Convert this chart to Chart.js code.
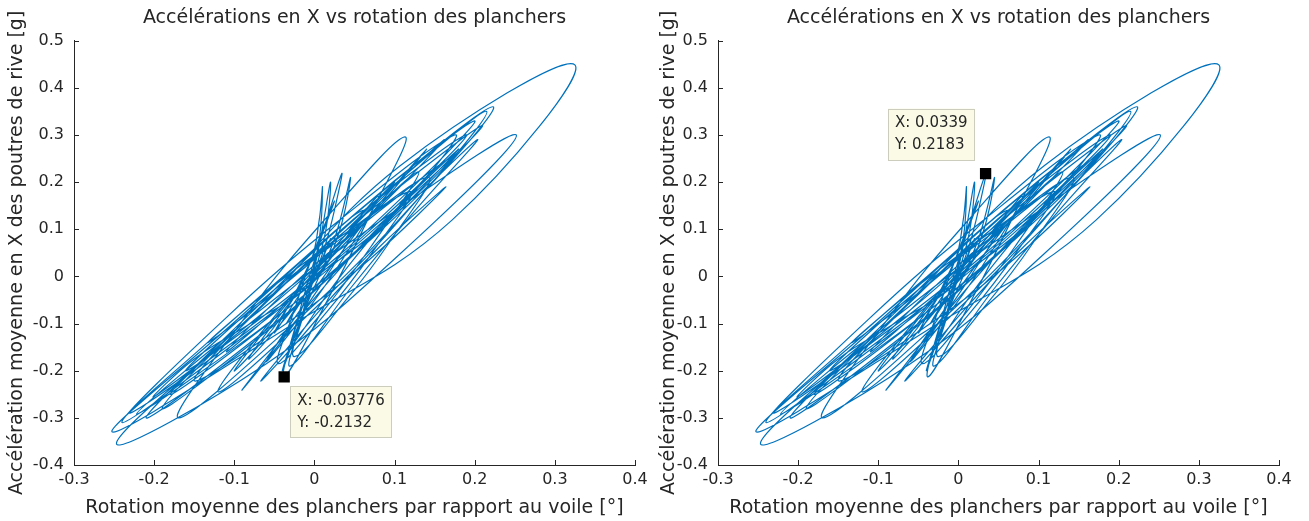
<!DOCTYPE html>
<html lang="fr">
<head>
<meta charset="utf-8">
<title>Accélérations en X vs rotation des planchers</title>
<style>
	body { margin: 0; background: #fff; }
	#wrap { position: relative; width: 1309px; height: 521px; overflow: hidden; }
	canvas { position: absolute; top: 0; }
	#left { left: 0; }
	#right { left: 644px; }
</style>
</head>
<body>
<div id="wrap">
	<canvas id="left" width="665" height="521"></canvas>
	<canvas id="right" width="665" height="521"></canvas>
</div>
<script src="https://cdn.jsdelivr.net/npm/chart.js@4.4.1/dist/chart.umd.min.js"></script>
<script>
// courbe rotation / accélération, une ligne = un demi-cycle
const rotX = [
	0.000,
	0.014, 0.025, 0.034,
	0.008, -0.017, -0.038,
	0.016, 0.066, 0.113,
	0.010, -0.085, -0.170,
	-0.028, 0.104, 0.223,
	0.057, -0.098, -0.252,
	-0.040, 0.172, 0.325,
	0.107, -0.072, -0.247,
	-0.060, 0.105, 0.252,
	0.085, -0.076, -0.222,
	-0.071, 0.070, 0.203,
	0.123, 0.045, -0.030,
	-0.011, 0.006, 0.020,
	0.012, -0.018, -0.040,
	-0.012, 0.025, 0.045,
	0.030, 0.000, -0.080, -0.150, -0.200,
	-0.072, 0.049, 0.162,
	0.061, -0.034, -0.120,
	0.001, 0.113, 0.215,
	0.086, -0.036, -0.150,
	-0.036, 0.068, 0.164,
	0.082, 0.005, -0.067,
	0.005, 0.070, 0.130,
	0.047, -0.029, -0.100,
	-0.045, -0.005, 0.006, 0.010,
	0.006, -0.012, -0.025,
	0.037, 0.093, 0.143,
	0.047, -0.046, -0.133,
	-0.051, 0.027, 0.100,
	0.036, -0.025, -0.082,
	-0.031, 0.016, 0.060,
	-0.039, -0.136, -0.230,
	-0.081, 0.060, 0.190,
	0.058, -0.063, -0.180,
	-0.056, 0.061, 0.170,
	0.071, -0.023, -0.110,
	-0.021, 0.063, 0.140,
	0.069, 0.003, -0.060,
	-0.009, 0.038, 0.080,
	0.034, -0.010, -0.050,
	-0.023, 0.003, 0.025,
	-0.001, -0.024, -0.045,
	0.016, 0.071, 0.120,
	0.021, -0.073, -0.160,
	-0.031, 0.089, 0.200,
	0.054, -0.081, -0.210,
	-0.071, 0.059, 0.180,
	0.084, -0.006, -0.090,
	-0.040, 0.007, 0.050,
	0.019, -0.009, -0.035,
	-0.014, 0.004, 0.020,
	0.012, 0.005, 0.000,
	0.067, 0.126, 0.175,
	0.028, -0.111, -0.240,
	-0.081, 0.069, 0.210,
	0.068, -0.066, -0.190,
	-0.068, 0.046, 0.150,
	0.086, 0.026, -0.030,
	-0.018, -0.008, 0.000
];
const accY = [
	0.000,
	0.069, 0.141, 0.218,
	0.079, -0.065, -0.213,
	-0.051, 0.119, 0.296,
	0.115, -0.083, -0.300,
	-0.103, 0.118, 0.360,
	0.141, -0.094, -0.330,
	-0.115, 0.120, 0.449,
	0.235, -0.072, -0.355,
	-0.185, 0.045, 0.300,
	0.121, -0.083, -0.292,
	-0.116, 0.078, 0.290,
	0.135, -0.025, -0.190,
	-0.065, 0.066, 0.200,
	0.080, -0.080, -0.200,
	-0.070, 0.080, 0.210,
	0.090, -0.010, -0.100, -0.175, -0.255,
	-0.088, 0.093, 0.290,
	0.127, -0.052, -0.245,
	-0.067, 0.133, 0.350,
	0.175, -0.015, -0.220,
	-0.101, 0.035, 0.190,
	0.064, -0.075, -0.222,
	-0.086, 0.062, 0.222,
	0.093, -0.047, -0.200,
	-0.095, 0.030, 0.120, 0.190,
	0.080, -0.060, -0.170,
	-0.055, 0.071, 0.210,
	0.102, -0.014, -0.140,
	-0.036, 0.078, 0.200,
	0.083, -0.043, -0.175,
	-0.078, 0.028, 0.140,
	0.000, -0.144, -0.290,
	-0.113, 0.084, 0.300,
	0.135, -0.058, -0.250,
	-0.098, 0.068, 0.250,
	0.125, -0.011, -0.160,
	-0.029, 0.115, 0.270,
	0.129, -0.021, -0.180,
	-0.072, 0.044, 0.170,
	0.079, -0.017, -0.120,
	-0.032, 0.063, 0.160,
	0.050, -0.066, -0.185,
	-0.074, 0.048, 0.180,
	0.065, -0.061, -0.200,
	-0.041, 0.135, 0.330,
	0.138, -0.080, -0.300,
	-0.128, 0.062, 0.270,
	0.112, -0.058, -0.240,
	-0.135, -0.021, 0.100,
	0.038, -0.029, -0.100,
	-0.045, 0.016, 0.080,
	0.045, 0.015, 0.000,
	0.082, 0.182, 0.300,
	0.115, -0.089, -0.310,
	-0.118, 0.092, 0.320,
	0.138, -0.062, -0.280,
	-0.128, 0.042, 0.230,
	0.112, -0.014, -0.150,
	-0.095, -0.045, 0.000
];

const xTicks = [-0.3, -0.2, -0.1, 0, 0.1, 0.2, 0.3, 0.4];
const xTickLabels = ['-0.3', '-0.2', '-0.1', '0', '0.1', '0.2', '0.3', '0.4'];
const yTicks = [-0.4, -0.3, -0.2, -0.1, 0, 0.1, 0.2, 0.3, 0.4, 0.5];
const yTickLabels = ['-0.4', '-0.3', '-0.2', '-0.1', '0', '0.1', '0.2', '0.3', '0.4', '0.5'];

// points des bulles de données (gauche, droite)
const tipX = [-0.03776, 0.0339];
const tipY = [-0.2132, 0.2183];
const tipLines = [['X: -0.03776', 'Y: -0.2132'], ['X: 0.0339', 'Y: 0.2183']];

const titleText = 'Accélérations en X vs rotation des planchers';
const xTitle = 'Rotation moyenne des planchers par rapport au voile [°]';
const yTitle = 'Accélération moyenne en X des poutres de rive [g]';

const textColor = '#262626';
const axisColor = '#262626';
const lineColor = '#0072BD';
Chart.defaults.font.family = '"DejaVu Sans", sans-serif';

const curve = rotX.map((x, i) => ({ x: x, y: accY[i] }));

// ticks vers l'intérieur, comme MATLAB
const inwardTicks = {
	id: 'inwardTicks',
	afterDraw(chart) {
		const { ctx, chartArea, scales } = chart;
		ctx.save();
		ctx.strokeStyle = axisColor;
		ctx.lineWidth = 1;
		ctx.beginPath();
		scales.x.ticks.forEach(t => {
			const px = Math.round(scales.x.getPixelForValue(t.value)) + 0.5;
			ctx.moveTo(px, chartArea.bottom);
			ctx.lineTo(px, chartArea.bottom - 5);
		});
		scales.y.ticks.forEach(t => {
			const py = Math.round(scales.y.getPixelForValue(t.value)) + 0.5;
			ctx.moveTo(chartArea.left, py);
			ctx.lineTo(chartArea.left + 5, py);
		});
		ctx.stroke();
		ctx.restore();
	}
};

const dataTip = {
	id: 'dataTip',
	afterDatasetsDraw(chart, args, opts) {
		const pt = chart.getDatasetMeta(0).data[0];
		const ctx = chart.ctx;
		ctx.save();
		ctx.font = '15px "DejaVu Sans"';
		const w = Math.max(...opts.lines.map(l => ctx.measureText(l).width)) + 14;
		const h = 52;
		const bx = opts.below ? pt.x + 6 : pt.x - 11 - w;
		const by = opts.below ? pt.y + 9 : pt.y - 13 - h;
		ctx.fillStyle = 'rgb(250,250,230)';
		ctx.fillRect(bx, by, w, h);
		ctx.strokeStyle = 'rgb(205,205,190)';
		ctx.lineWidth = 1;
		ctx.strokeRect(Math.round(bx) + 0.5, Math.round(by) + 0.5, Math.round(w) - 1, h - 1);
		ctx.fillStyle = textColor;
		ctx.textBaseline = 'middle';
		ctx.fillText(opts.lines[0], bx + 7, by + 15);
		ctx.fillText(opts.lines[1], bx + 7, by + 37);
		ctx.restore();
	}
};

function makeChart(id, padLeft, k) {
	return new Chart(document.getElementById(id), {
		type: 'scatter',
		data: {
			datasets: [
				{
					data: [{ x: tipX[k], y: tipY[k] }],
					pointStyle: 'rect',
					pointRadius: 8,
					backgroundColor: '#000',
					borderWidth: 0
				},
				{
					data: curve,
					showLine: true,
					pointRadius: 0,
					borderColor: lineColor,
					borderWidth: 1.2,
					tension: 0.4
				}
			]
		},
		options: {
			responsive: false,
			animation: false,
			devicePixelRatio: 1,
			layout: { padding: { left: padLeft, right: 30, top: 0, bottom: 0 } },
			plugins: {
				legend: { display: false },
				tooltip: { enabled: false },
				title: {
					display: true,
					fullSize: false,
					text: titleText,
					color: textColor,
					font: { size: 19, weight: 'normal' },
					padding: { top: 7, bottom: 11 }
				},
				dataTip: { lines: tipLines[k], below: k === 0 }
			},
			scales: {
				x: {
					type: 'linear',
					min: -0.3,
					max: 0.4,
					afterBuildTicks: s => { s.ticks = xTicks.map(v => ({ value: v })); },
					afterFit: s => { s.height = 56; },
					grid: { display: false, drawTicks: false },
					border: { display: true, color: axisColor, width: 1 },
					ticks: {
						color: textColor,
						font: { size: 16 },
						padding: 5,
						maxRotation: 0,
						autoSkip: false,
						callback: (v, i) => xTickLabels[i]
					},
					title: {
						display: true,
						text: xTitle,
						color: textColor,
						font: { size: 19 },
						padding: { top: 0, bottom: 2 }
					}
				},
				y: {
					type: 'linear',
					min: -0.4,
					max: 0.5,
					afterBuildTicks: s => { s.ticks = yTicks.map(v => ({ value: v })); },
					afterFit: s => { s.width = 74 - padLeft; },
					grid: { display: false, drawTicks: false },
					border: { display: true, color: axisColor, width: 1 },
					ticks: {
						color: textColor,
						font: { size: 16 },
						padding: 10,
						autoSkip: false,
						callback: (v, i) => yTickLabels[i]
					},
					title: {
						display: true,
						text: yTitle,
						color: textColor,
						font: { size: 19 },
						padding: { top: 6, bottom: 0 }
					}
				}
			}
		},
		plugins: [inwardTicks, dataTip]
	});
}

makeChart('left', 0, 0);
makeChart('right', 8, 1);
</script>
</body>
</html>
